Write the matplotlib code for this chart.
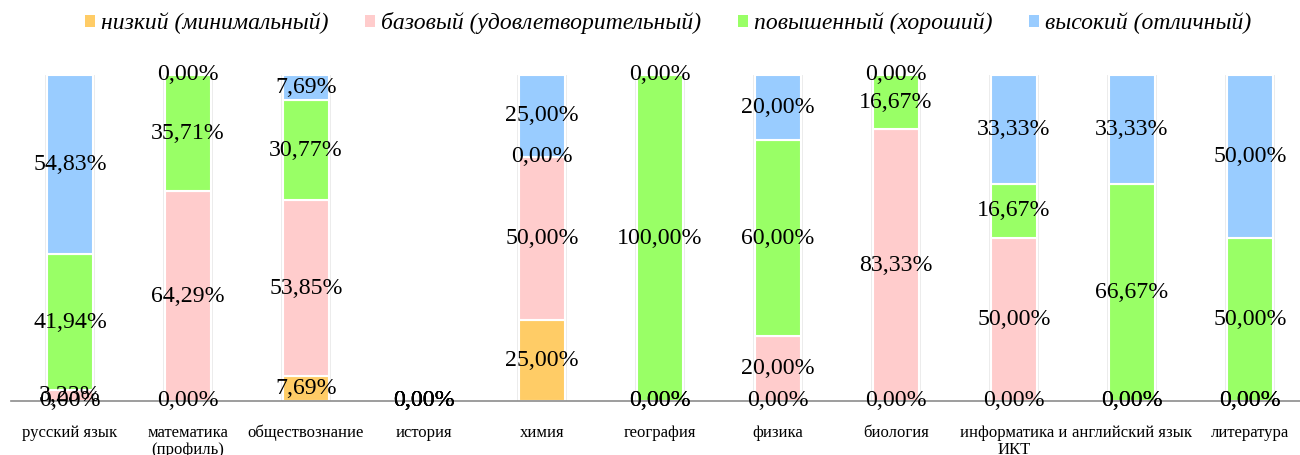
import matplotlib.pyplot as plt
import numpy as np

# data
subjects = ['русский язык', 'математика\n(профиль)', 'обществознание', 'история',
            'химия', 'география', 'физика', 'биология', 'информатика и\nИКТ',
            'английский язык', 'литература']
levels = ['низкий (минимальный)', 'базовый (удовлетворительный)',
          'повышенный (хороший)', 'высокий (отличный)']
low = [0.00, 0.00, 7.69, 0.00, 25.00, 0.00, 0.00, 0.00, 0.00, 0.00, 0.00]
base = [3.23, 64.29, 53.85, 0.00, 50.00, 0.00, 20.00, 83.33, 50.00, 0.00, 0.00]
good = [41.94, 35.71, 30.77, 0.00, 0.00, 100.00, 60.00, 16.67, 16.67, 66.67, 50.00]
high = [54.83, 0.00, 7.69, 0.00, 25.00, 0.00, 20.00, 0.00, 33.33, 33.33, 50.00]
colors = ['#FFCC66', '#FFCCCC', '#99FF66', '#99CCFF']

plt.rcParams['font.family'] = ['Liberation Serif', 'DejaVu Serif']

fig = plt.figure(figsize=(13, 4.55), dpi=100)
ax = fig.add_axes([11/1300, 54/455, 1289/1300, 326/455])

x = np.arange(len(subjects))
width = 0.39
series = [low, base, good, high]

# soft shadow behind each stacked column
for i in x:
    total = sum(s[i] for s in series)
    if total > 0:
        ax.bar(i, total + 0.6, width + 0.04, bottom=-0.3, color='#e4e4e4',
               alpha=0.7, zorder=1, linewidth=0)

bottom = np.zeros(len(subjects))
handles = []
for vals, col, name in zip(series, colors, levels):
    vals = np.array(vals)
    b = ax.bar(x, vals, width, bottom=bottom, color=col, edgecolor='white',
               linewidth=1.5, label=name, zorder=2)
    handles.append(b)
    for i in x:
        ax.text(i, bottom[i] + vals[i] / 2, f'{vals[i]:.2f}%'.replace('.', ','),
                ha='center', va='center', fontsize=17.2, zorder=4)
    bottom += vals

ax.set_xlim(-0.5, 10.424)
ax.set_ylim(0, 100)
for sp in ['top', 'right', 'left']:
    ax.spines[sp].set_visible(False)
ax.spines['bottom'].set_color('#8c8c8c')
ax.spines['bottom'].set_linewidth(1.2)
ax.spines['bottom'].set_zorder(3)
ax.set_yticks([])
ax.set_xticks(x)
ax.set_xticklabels(subjects, fontsize=12, linespacing=1.15)
ax.tick_params(axis='x', length=0, pad=17)

leg = fig.legend(handles=handles, loc='center', bbox_to_anchor=(0.514, 0.949),
                 ncol=4, frameon=False, handlelength=0.42, handleheight=0.42,
                 handletextpad=0.25, columnspacing=1.55,
                 prop={'family': 'Liberation Serif', 'style': 'italic', 'size': 17})
for h in leg.legend_handles:
    h.set_edgecolor('none')

fig.savefig('out.png', dpi=100)
